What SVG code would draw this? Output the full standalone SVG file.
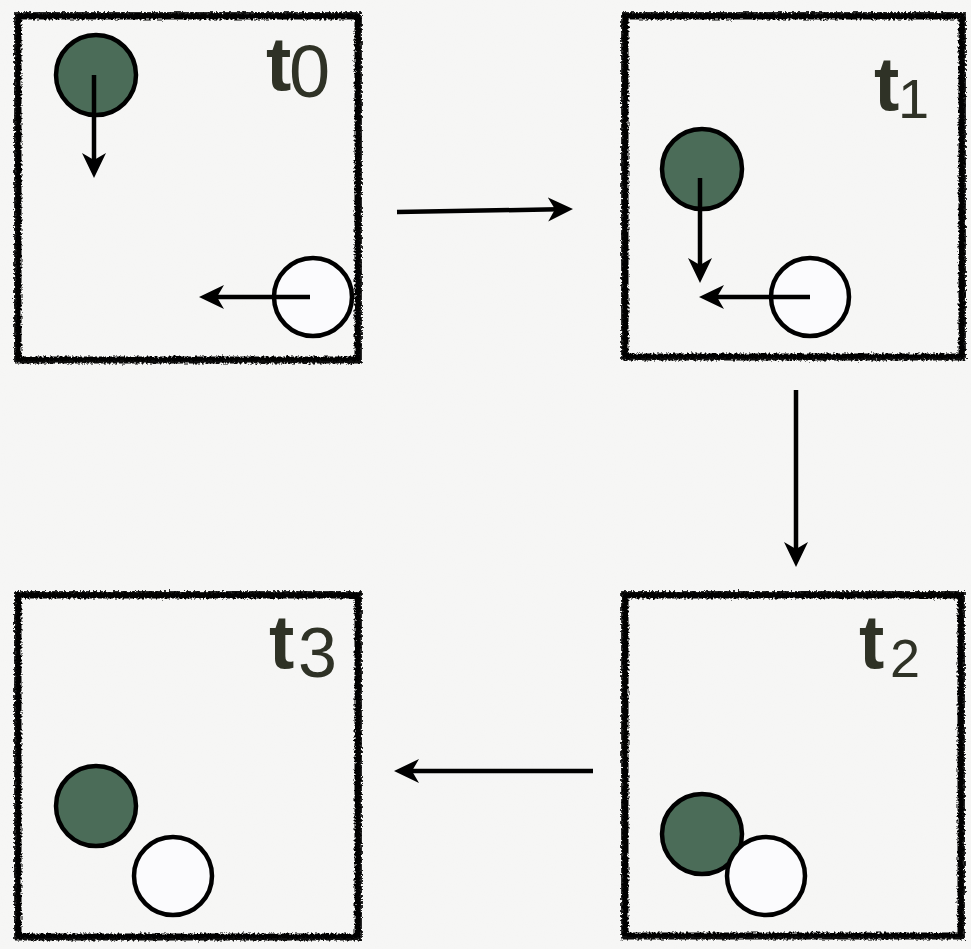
<svg xmlns="http://www.w3.org/2000/svg" width="971" height="949" viewBox="0 0 971 949">
  <defs>
    <filter id="paper" x="0" y="0" width="100%" height="100%">
      <feTurbulence type="fractalNoise" baseFrequency="0.9" numOctaves="2" seed="3" result="n"/>
      <feColorMatrix in="n" type="matrix" values="0 0 0 0 0.5  0 0 0 0 0.5  0 0 0 0 0.5  0 0 0 0.04 0"/>
    </filter>
    <filter id="rough" x="-5%" y="-5%" width="110%" height="110%">
      <feTurbulence type="fractalNoise" baseFrequency="0.45" numOctaves="2" seed="7" result="t"/>
      <feDisplacementMap in="SourceGraphic" in2="t" scale="5" xChannelSelector="R" yChannelSelector="G"/>
    </filter>
    <marker id="ah" viewBox="0 -13 26 26" refX="10" refY="0" markerWidth="26" markerHeight="26" markerUnits="userSpaceOnUse" orient="auto">
      <path d="M0,-12 L25,0 L0,12 L7,0 z" fill="#000"/>
    </marker>
  </defs>
  <style>
    .frame { fill: none; stroke: #000; stroke-width: 7; }
    .frame2 { fill: none; stroke: #111; stroke-width: 2; opacity: 0.75; }
    .green { fill: #4b6c58; stroke: #000; stroke-width: 4.5; }
    .white { fill: #fbfbfd; stroke: #000; stroke-width: 4.5; }
    .arr { fill: none; stroke: #000; stroke-width: 4.5; marker-end: url(#ah); }
    .lbl { font-family: "Liberation Sans", Arial, sans-serif; fill: #2f3226; }
    .tt { font-weight: bold; }
  </style>

  <rect width="971" height="949" fill="#f7f7f6"/>
  <rect width="971" height="949" filter="url(#paper)"/>

  <g id="frame-t0">
    <g filter="url(#rough)">
      <rect class="frame" x="18" y="16" width="340" height="344"/>
      <rect class="frame2" x="15" y="13" width="346" height="349"/>
    </g>
    <circle class="green" cx="96" cy="75" r="40"/>
    <circle class="white" cx="313" cy="297" r="39"/>
    <text class="lbl"><tspan class="tt" x="266" y="90" font-size="76">t</tspan><tspan x="289" y="97" font-size="74">0</tspan></text>
  </g>

  <g id="frame-t1">
    <g filter="url(#rough)">
      <rect class="frame" x="625" y="16" width="337" height="341"/>
      <rect class="frame2" x="622" y="13" width="343" height="346"/>
    </g>
    <circle class="green" cx="702" cy="169" r="40"/>
    <circle class="white" cx="810" cy="297" r="39"/>
    <text class="lbl"><tspan class="tt" x="874" y="110" font-size="76">t</tspan><tspan x="898" y="118" font-size="56">1</tspan></text>
  </g>

  <g id="frame-t2">
    <g filter="url(#rough)">
      <rect class="frame" x="625" y="595" width="336" height="341"/>
      <rect class="frame2" x="622" y="592" width="342" height="346"/>
    </g>
    <circle class="green" cx="702" cy="834" r="40"/>
    <circle class="white" cx="766" cy="876" r="39"/>
    <text class="lbl"><tspan class="tt" x="859" y="668" font-size="76">t</tspan><tspan x="890" y="677" font-size="54">2</tspan></text>
  </g>

  <g id="frame-t3">
    <g filter="url(#rough)">
      <rect class="frame" x="18" y="595" width="340" height="342"/>
      <rect class="frame2" x="15" y="592" width="346" height="347"/>
    </g>
    <circle class="green" cx="96" cy="806" r="40"/>
    <circle class="white" cx="173" cy="876" r="39"/>
    <text class="lbl"><tspan class="tt" x="269" y="668" font-size="76">t</tspan><tspan x="298" y="677" font-size="70">3</tspan></text>
  </g>

  <g id="connectors">
    <path class="arr" d="M397,212 L558,209.3"/>
    <path class="arr" d="M796,390 L796,552"/>
    <path class="arr" d="M593,771 L409,771"/>
    <path class="arr" d="M94,75 L94,163"/>
    <path class="arr" d="M310,297 L214,297"/>
    <path class="arr" d="M700,178 L700,268"/>
    <path class="arr" d="M810,297 L714,297"/>
  </g>
</svg>
